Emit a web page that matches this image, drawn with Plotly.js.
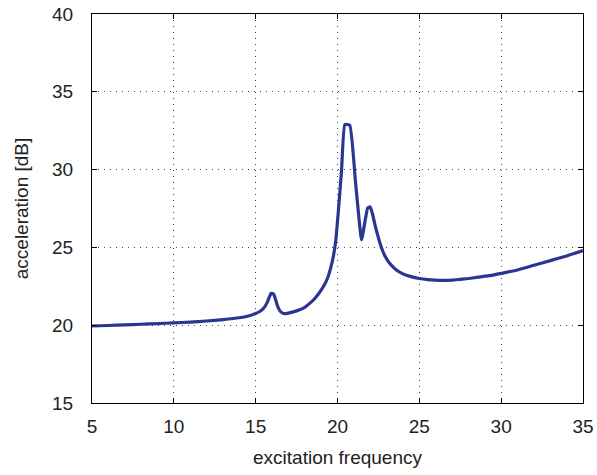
<!DOCTYPE html>
<html>
<head>
<meta charset="utf-8">
<script src="https://cdn.plot.ly/plotly-3.0.1.min.js"></script>
<style>html,body{margin:0;padding:0;background:#fff;}#chart{width:597px;height:475px;}</style>
</head>
<body>
<div id="chart"></div>
<script>
var frequency = [5, 6, 7, 8, 9, 10, 11, 12, 13, 14, 14.5, 15, 15.25, 15.5, 15.7, 15.85, 15.95, 16.1, 16.2, 16.35, 16.5, 16.7, 17, 17.5, 18, 18.3, 18.6, 18.9, 19.2, 19.4, 19.6, 19.75, 19.9, 20.05, 20.25, 20.45, 20.75, 21.1, 21.47, 21.7, 21.85, 22.0, 22.15, 22.3, 22.45, 22.6, 22.75, 22.9, 23.1, 23.3, 23.6, 24, 24.5, 25, 25.5, 26, 26.5, 27, 27.5, 28, 28.5, 29, 29.5, 30, 31, 32, 33, 34, 35];
var accelerationDb = [19.95, 19.98, 20.02, 20.06, 20.1, 20.15, 20.2, 20.27, 20.36, 20.48, 20.58, 20.75, 20.88, 21.1, 21.45, 21.85, 22.05, 22.0, 21.7, 21.2, 20.9, 20.75, 20.78, 20.92, 21.15, 21.4, 21.7, 22.1, 22.6, 23.05, 23.75, 24.45, 25.5, 27.3, 30.0, 32.9, 32.85, 29.2, 25.5, 26.8, 27.55, 27.6, 27.1, 26.4, 25.8, 25.25, 24.8, 24.45, 24.1, 23.85, 23.55, 23.3, 23.12, 23.0, 22.93, 22.9, 22.88, 22.9, 22.95, 23.0, 23.07, 23.15, 23.22, 23.33, 23.55, 23.85, 24.15, 24.45, 24.8];
var xTicks = [5, 10, 15, 20, 25, 30, 35];
var yTicks = [15, 20, 25, 30, 35, 40];

var trace = {
  x: frequency, y: accelerationDb, type: 'scatter', mode: 'lines',
  line: {color: '#2b3592', width: 3.2, shape: 'spline', smoothing: 0.4}, hoverinfo: 'x+y'
};
var axisCommon = {
  showline: true, linecolor: '#000', linewidth: 1, mirror: 'allticks',
  ticks: 'inside', ticklen: 5, tickcolor: '#000', tickwidth: 1,
  showgrid: true, gridcolor: '#444', griddash: '1px,5px', gridwidth: 1,
  zeroline: false, tickfont: {family: 'Liberation Sans, Arial, sans-serif', size: 19, color: '#222'}
};
var layout = {
  width: 597, height: 475,
  margin: {l: 92, r: 14, t: 14, b: 72},
  paper_bgcolor: '#fff', plot_bgcolor: '#fff',
  showlegend: false,
  font: {family: 'Liberation Sans, Arial, sans-serif', color: '#222'},
  xaxis: Object.assign({}, axisCommon, {
    range: [5, 35], tickvals: xTicks, ticktext: xTicks.map(String),
    ticklabelstandoff: 6,
    title: {text: 'excitation frequency', font: {size: 19, color: '#222'}, standoff: 14}
  }),
  yaxis: Object.assign({}, axisCommon, {
    range: [15, 40], tickvals: yTicks, ticktext: yTicks.map(String),
    ticklabelstandoff: 14,
    title: {text: 'acceleration [dB]', font: {size: 19, color: '#222'}, standoff: 18}
  })
};
Plotly.newPlot('chart', [trace], layout, {displayModeBar: false, staticPlot: true});
</script>
</body>
</html>
